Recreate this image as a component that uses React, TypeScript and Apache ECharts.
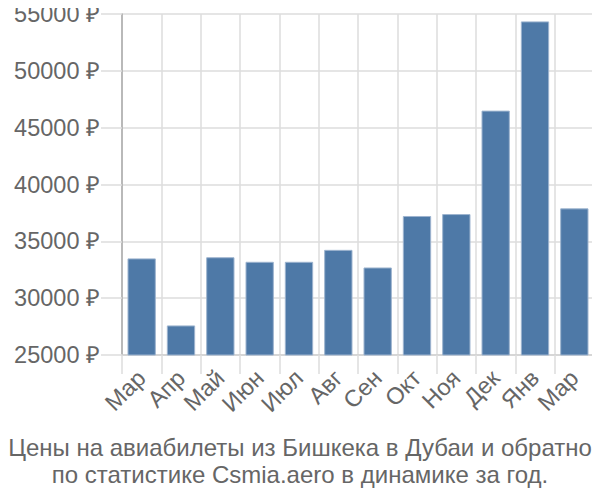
import React, { useEffect, useRef } from "react";
import * as echarts from "echarts";

const categories = ["Мар", "Апр", "Май", "Июн", "Июл", "Авг", "Сен", "Окт", "Ноя", "Дек", "Янв", "Мар"];
const prices = [33500, 27600, 33600, 33200, 33200, 34250, 32700, 37230, 37400, 46500, 54350, 37900];
const yTicks = { min: 25000, max: 55000, interval: 5000 };
const titleLines = [
  "Цены на авиабилеты из Бишкека в Дубаи и обратно",
  "по статистике Csmia.aero в динамике за год.",
];

export default function App() {
  const ref = useRef<HTMLDivElement>(null);
  useEffect(() => {
    if (!ref.current) return;
    const chart = echarts.init(ref.current, undefined, { renderer: "svg" });
    chart.setOption({
      animation: false,
      textStyle: { fontFamily: "Liberation Sans" },
      title: {
        text: titleLines.join("\n"),
        left: 295,
        top: 429,
        textAlign: "center",
        textStyle: {
          fontFamily: "Liberation Sans",
          fontSize: 24,
          fontWeight: "normal",
          color: "#666",
          lineHeight: 27,
        },
      },
      grid: { left: 122, right: 6, top: 14, bottom: 145, containLabel: false },
      xAxis: {
        type: "category",
        data: categories,
        axisLine: { show: true, lineStyle: { color: "#d0d0d0", width: 1.5 } },
        axisTick: { show: true, length: 19, lineStyle: { color: "#ddd", width: 1.5 } },
        splitLine: { show: true, lineStyle: { color: "#ddd", width: 1.5 } },
        axisLabel: {
          rotate: 45,
          fontSize: 23.5,
          color: "#666",
          margin: 19,
          interval: 0,
        },
      },
      yAxis: {
        type: "value",
        min: yTicks.min,
        max: yTicks.max,
        interval: yTicks.interval,
        axisLine: { show: true, lineStyle: { color: "#aaa", width: 1.5 } },
        axisTick: { show: true, length: 21, lineStyle: { color: "#ddd", width: 1.5 } },
        splitLine: { show: true, lineStyle: { color: "#ddd", width: 1.5 } },
        axisLabel: {
          fontSize: 23.5,
          color: "#666",
          margin: 22,
          formatter: (v: number) => `${v} ₽`,
        },
      },
      series: [
        {
          type: "bar",
          data: prices,
          barCategoryGap: "28%",
          itemStyle: { color: "#4e79a7", borderColor: "#9db4cf", borderWidth: 1 },
        },
      ],
    });
    return () => chart.dispose();
  }, []);
  return <div ref={ref} style={{ width: 600, height: 500, margin: -8 }} />;
}
